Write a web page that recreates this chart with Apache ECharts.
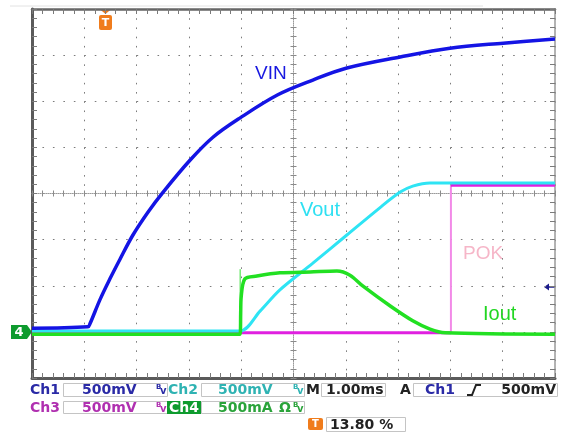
<!DOCTYPE html>
<html>
<head>
<meta charset="utf-8">
<script src="https://cdn.jsdelivr.net/npm/echarts@6/dist/echarts.min.js"></script>
<style>
html,body{margin:0;padding:0;background:#fff;}
#chart{width:561px;height:432px;}
</style>
</head>
<body>
<div id="chart"></div>
<script>
// Time axis in screen divisions (1.00 ms/div), centre = 0; vertical axis in divisions (500 mV/div, 500 mA/div)
var vinT  = [-5.0, -3.93, -3.89, -3.70, -3.51, -3.32, -3.07, -2.78, -2.50, -1.98, -1.54, -1.02, -0.30, 0.37, 1.02, 2.04, 2.99, 4.01, 5.0];
var vinV  = [-2.92, -2.89, -2.82, -2.30, -1.85, -1.43, -0.90, -0.40, 0.02, 0.72, 1.22, 1.64, 2.14, 2.46, 2.72, 2.96, 3.15, 3.26, 3.35];

var voutT = [-5.0, -1.02, -0.64, -0.26, 0.37, 1.02, 1.65, 2.04, 2.28, 2.61, 5.0];
var voutV = [-2.98, -2.98, -2.55, -2.09, -1.51, -0.90, -0.31, 0.03, 0.16, 0.23, 0.23];

var ioutT = [-5.0, -1.02, -1.01, -1.00, -0.93, -0.70, -0.26, 0.32, 0.83, 1.08, 1.33, 1.85, 2.28, 2.61, 2.90, 5.0];
var ioutV = [-3.05, -3.05, -2.60, -2.24, -1.85, -1.79, -1.72, -1.70, -1.68, -1.77, -2.01, -2.44, -2.76, -2.94, -3.02, -3.05];

var spikeT = [-1.02, -1.02];
var spikeV = [-3.05, -1.64];

var pokT = [-5.0, 3.01, 3.01, 5.0];
var pokV = [-3.02, -3.02, 0.18, 0.18];

var traceLabels = ['VIN', 'Vout', 'POK', 'Iout'];
var statusRow1 = ['Ch1', '500mV', 'Ch2', '500mV', 'M', '1.00ms', 'A', 'Ch1', '500mV'];
var statusRow2 = ['Ch3', '500mV', 'Ch4', '500mA', 'Ω'];
var triggerPos = '13.80 %';

function pairs(t, v) { return t.map(function (x, i) { return [x, v[i]]; }); }

var chart = echarts.init(document.getElementById('chart'), null, {renderer: 'canvas'});

var GL = 32, GT = 9, GW = 523, GH = 369;

function borderX(pos, color, width) {
  return {
    type: 'value', min: -5, max: 5, interval: 1, position: pos,
    axisLine: {show: true, onZero: false, lineStyle: {color: color, width: width}},
    axisTick: {show: true, inside: true, length: 5, lineStyle: {color: '#7a7a7a', width: 1}},
    minorTick: {show: true, splitNumber: 5, length: 5, lineStyle: {color: '#7a7a7a', width: 1}},
    axisLabel: {show: false}, splitLine: {show: false}
  };
}
function borderY(pos, color, width) {
  return {
    type: 'value', min: -4, max: 4, interval: 1, position: pos,
    axisLine: {show: true, onZero: false, lineStyle: {color: color, width: width}},
    axisTick: {show: true, inside: true, length: 5, lineStyle: {color: '#7a7a7a', width: 1}},
    minorTick: {show: true, splitNumber: 5, length: 5, lineStyle: {color: '#7a7a7a', width: 1}},
    axisLabel: {show: false}, splitLine: {show: false}
  };
}
function centerX(inside, showLine) {
  return {
    type: 'value', min: -5, max: 5, interval: 1, position: 'bottom',
    axisLine: {show: showLine, onZero: true, onZeroAxisIndex: 0, lineStyle: {color: '#9a9a9a', width: 1, type: [1, 1]}},
    axisTick: {show: true, inside: inside, length: 3, lineStyle: {color: '#8a8a8a', width: 1}},
    minorTick: {show: true, splitNumber: 5, length: 3, lineStyle: {color: '#8a8a8a', width: 1}},
    axisLabel: {show: false}, splitLine: {show: false}
  };
}
function centerY(inside, showLine) {
  return {
    type: 'value', min: -4, max: 4, interval: 1, position: 'left',
    axisLine: {show: showLine, onZero: true, onZeroAxisIndex: 0, lineStyle: {color: '#9a9a9a', width: 1, type: [1, 1]}},
    axisTick: {show: true, inside: inside, length: 3, lineStyle: {color: '#8a8a8a', width: 1}},
    minorTick: {show: true, splitNumber: 5, length: 3, lineStyle: {color: '#8a8a8a', width: 1}},
    axisLabel: {show: false}, splitLine: {show: false}
  };
}

var x0 = borderX('bottom', '#5a5a5a', 3);
x0.splitLine = {show: true, lineStyle: {color: '#7c7c7c', width: 1, type: [1.6, 7.625]}};
var y0 = borderY('left', '#5a5a5a', 3);
y0.splitLine = {show: true, lineStyle: {color: '#7c7c7c', width: 1, type: [1.6, 8.86]}};

var statusFont = 'bold 14px "DejaVu Sans", sans-serif';
function stxt(x, y, s, color, align, font) {
  return {type: 'text', x: x, y: y, silent: true,
    style: {text: s, fill: color, font: font || statusFont, align: align || 'left', verticalAlign: 'middle'}};
}
function sbox(x, y, w, h) {
  return {type: 'rect', shape: {x: x, y: y, width: w, height: h}, silent: true,
    style: {fill: '#fff', stroke: '#c4c4c4', lineWidth: 1}};
}
function bwIcon(x, y, color) {
  return [
    {type: 'text', x: x, y: y - 3, silent: true, style: {text: 'B', fill: color, font: 'bold 7px "DejaVu Sans", sans-serif', verticalAlign: 'middle'}},
    {type: 'text', x: x + 4, y: y + 1, silent: true, style: {text: 'v', fill: color, font: 'bold 10px "DejaVu Sans", sans-serif', verticalAlign: 'middle'}}
  ];
}

var labelFont = '19px "Liberation Sans", Arial, sans-serif';
var graphics = [
  {type: 'line', shape: {x1: 10, y1: 6, x2: 483, y2: 6}, silent: true, style: {stroke: '#e2e2e2', lineWidth: 1}},
  {type: 'text', x: 255, y: 74, silent: true, style: {text: traceLabels[0], fill: '#1818e0', font: labelFont, verticalAlign: 'middle'}},
  {type: 'text', x: 300, y: 210, silent: true, style: {text: traceLabels[1], fill: '#2ee0f2', font: '20px "Liberation Sans", Arial, sans-serif', verticalAlign: 'middle'}},
  {type: 'text', x: 463, y: 254, silent: true, style: {text: traceLabels[2], fill: '#f6b6c8', font: labelFont, verticalAlign: 'middle'}},
  {type: 'text', x: 483, y: 314, silent: true, style: {text: traceLabels[3], fill: '#22d622', font: '20px "Liberation Sans", Arial, sans-serif', verticalAlign: 'middle'}},
  {type: 'polygon', shape: {points: [[11, 325], [27, 325], [32, 332], [27, 339], [11, 339]]}, silent: true, style: {fill: '#0e9b2e'}},
  {type: 'text', x: 19, y: 332.5, silent: true, style: {text: '4', fill: '#fff', font: 'bold 13px "DejaVu Sans", sans-serif', align: 'center', verticalAlign: 'middle'}},
  {type: 'polygon', shape: {points: [[99.5, 9], [111.5, 9], [105.5, 14]]}, silent: true, style: {fill: '#f07c1c'}},
  {type: 'rect', shape: {x: 99, y: 15, width: 13, height: 15, r: 2}, silent: true, style: {fill: '#f07c1c'}},
  {type: 'text', x: 105.5, y: 23, silent: true, style: {text: 'T', fill: '#fff', font: 'bold 11px "DejaVu Sans", sans-serif', align: 'center', verticalAlign: 'middle'}},
  {type: 'line', shape: {x1: 547, y1: 287, x2: 555, y2: 287}, silent: true, style: {stroke: '#1a1a8c', lineWidth: 1.5}},
  {type: 'polygon', shape: {points: [[544, 287], [549, 283.5], [549, 290.5]]}, silent: true, style: {fill: '#1a1a8c'}},
  sbox(63.5, 383.5, 104, 13), sbox(201.5, 383.5, 103, 13), sbox(321.5, 383.5, 64, 13), sbox(413.5, 383.5, 144, 13),
  sbox(63.5, 401.5, 104, 12), sbox(201.5, 401.5, 103, 12),
  sbox(326.5, 417.5, 79, 14),
  {type: 'rect', shape: {x: 167, y: 401, width: 34, height: 13}, silent: true, style: {fill: '#0e9b2e'}},
  stxt(30, 390, statusRow1[0], '#2a2aa6'),
  stxt(82, 390, statusRow1[1], '#2a2aa6'),
  stxt(168, 390, statusRow1[2], '#2fb3b3'),
  stxt(218, 390, statusRow1[3], '#2fb3b3'),
  stxt(306, 390, statusRow1[4], '#222'),
  stxt(326, 390, statusRow1[5], '#222'),
  stxt(400, 390, statusRow1[6], '#222'),
  stxt(425, 390, statusRow1[7], '#2a2aa6'),
  stxt(556, 390, statusRow1[8], '#222', 'right'),
  {type: 'polyline', shape: {points: [[467, 395], [472, 395], [476, 385], [481, 385]]}, silent: true, style: {stroke: '#222', lineWidth: 2, fill: null}},
  stxt(30, 408, statusRow2[0], '#b030b0'),
  stxt(82, 408, statusRow2[1], '#b030b0'),
  stxt(169, 408, statusRow2[2], '#fff'),
  stxt(218, 408, statusRow2[3], '#2aa33a'),
  stxt(279, 408, statusRow2[4], '#2aa33a'),
  {type: 'rect', shape: {x: 308, y: 418, width: 15, height: 12, r: 2}, silent: true, style: {fill: '#f07c1c'}},
  {type: 'text', x: 315.5, y: 424.5, silent: true, style: {text: 'T', fill: '#fff', font: 'bold 10px "DejaVu Sans", sans-serif', align: 'center', verticalAlign: 'middle'}},
  stxt(330, 425, triggerPos, '#222')
].concat(bwIcon(156, 390, '#2a2aa6'), bwIcon(293, 390, '#2fb3b3'), bwIcon(156, 408, '#b030b0'), bwIcon(293, 408, '#2aa33a'));

function lineSeries(name, data, color, width, z, smooth) {
  return {name: name, type: 'line', data: data, xAxisIndex: 0, yAxisIndex: 0, symbol: 'none',
    smooth: smooth || false,
    lineStyle: {color: color, width: width}, z: z, silent: true, animation: false};
}

chart.setOption({
  backgroundColor: '#ffffff',
  animation: false,
  grid: {left: GL, top: GT, width: GW, height: GH, containLabel: false},
  xAxis: [x0, borderX('top', '#666666', 2.5), centerX(true, true), centerX(false, false)],
  yAxis: [y0, borderY('right', '#9a9a9a', 1.5), centerY(true, true), centerY(false, false)],
  series: [
    lineSeries('POK', pairs(pokT.slice(0, 2), pokV.slice(0, 2)), '#e020e0', 3, 2),
    lineSeries('POK edge', pairs(pokT.slice(1, 3), pokV.slice(1, 3)), '#f28ae8', 2, 2),
    lineSeries('POK high', pairs(pokT.slice(2), pokV.slice(2)), '#e020e0', 3, 2),
    lineSeries('Vout', pairs(voutT, voutV), '#2ee4f4', 3, 3, 0.3),
    lineSeries('VIN', pairs(vinT, vinV), '#1414e4', 3.5, 4, 0.35),
    lineSeries('Iout spike', pairs(spikeT, spikeV), '#33e033', 1, 5),
    lineSeries('Iout', pairs(ioutT, ioutV), '#22e022', 3.5, 5, 0.3)
  ],
  graphic: graphics
});
</script>
</body>
</html>
